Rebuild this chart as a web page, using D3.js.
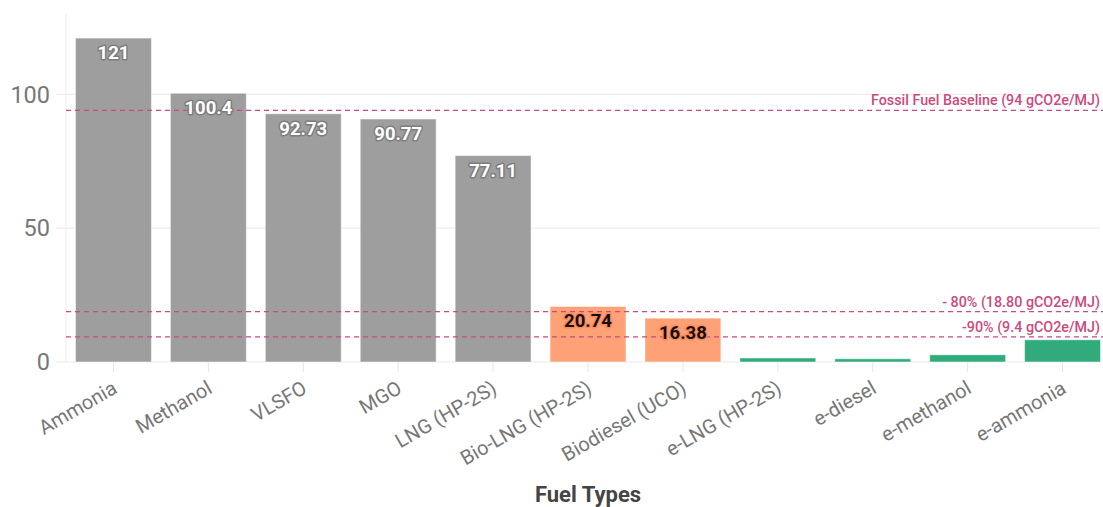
<!DOCTYPE html>
<html>
<head>
<meta charset="utf-8">
<script src="https://cdn.jsdelivr.net/npm/d3@7/dist/d3.min.js"></script>
<style>
  html, body { margin: 0; padding: 0; background: #fff; }
  svg { display: block; font-family: Roboto, "Noto Sans", sans-serif; }
</style>
</head>
<body>
<svg id="chart" width="1103" height="507"></svg>
<script>
// Well-to-wake GHG intensity by fuel (gCO2e/MJ)
const fuels = ["Ammonia", "Methanol", "VLSFO", "MGO", "LNG (HP-2S)", "Bio-LNG (HP-2S)",
  "Biodiesel (UCO)", "e-LNG (HP-2S)", "e-diesel", "e-methanol", "e-ammonia"];
const intensity = [121, 100.4, 92.73, 90.77, 77.11, 20.74, 16.38, 1.5, 1.2, 2.7, 8.3];
const group = ["fossil", "fossil", "fossil", "fossil", "fossil", "bio", "bio",
  "efuel", "efuel", "efuel", "efuel"];
const showValue = [true, true, true, true, true, true, true, false, false, false, false];
const yTicks = [0, 50, 100];
const refValues = [94, 18.8, 9.4];
const refLabels = ["Fossil Fuel Baseline (94 gCO2e/MJ)", "- 80% (18.80 gCO2e/MJ)", "-90% (9.4 gCO2e/MJ)"];
const axisTitle = "Fuel Types";

const colors = { fossil: "#9e9e9e", bio: "#ffa177", efuel: "#32ab7c" };
const refColor = "#cc4a7d";

const svg = d3.select("#chart");
const plotLeft = 66, plotRight = 1110, plotTop = 14, plotBottom = 362;

const x = d3.scaleBand().domain(fuels).range([plotLeft, plotRight]).paddingInner(0.2).paddingOuter(0.1);
const y = d3.scaleLinear().domain([0, 130]).range([plotBottom, plotTop]);

// gridlines
svg.append("g").selectAll("line").data(yTicks).join("line")
  .attr("x1", plotLeft - 10).attr("x2", 1100)
  .attr("y1", d => y(d)).attr("y2", d => y(d))
  .attr("stroke", "#e9e9e9").attr("stroke-width", 1);

// y axis line
svg.append("line").attr("x1", plotLeft).attr("x2", plotLeft).attr("y1", plotTop).attr("y2", plotBottom)
  .attr("stroke", "#ececec").attr("stroke-width", 1);

// y tick labels
svg.append("g").selectAll("text").data(yTicks).join("text")
  .attr("x", plotLeft - 16).attr("y", d => y(d)).attr("dy", "0.35em")
  .attr("text-anchor", "end").attr("font-size", 23.5).attr("fill", "#777")
  .text(d => d);

// x ticks
svg.append("g").selectAll("line").data(fuels).join("line")
  .attr("x1", d => x(d) + x.bandwidth() / 2).attr("x2", d => x(d) + x.bandwidth() / 2)
  .attr("y1", plotBottom).attr("y2", plotBottom + 10)
  .attr("stroke", "#e6e6e6");

// bars
svg.append("g").selectAll("rect").data(fuels).join("rect")
  .attr("x", d => x(d)).attr("width", x.bandwidth())
  .attr("y", (d, i) => y(intensity[i]))
  .attr("height", (d, i) => y(0) - y(intensity[i]))
  .attr("fill", (d, i) => colors[group[i]])
  .attr("stroke", "#fff").attr("stroke-opacity", 0.5).attr("stroke-width", 1);

// reference lines
refValues.forEach((v, i) => {
  svg.append("line").attr("x1", plotLeft).attr("x2", 1103)
    .attr("y1", y(v)).attr("y2", y(v))
    .attr("stroke", refColor).attr("stroke-width", 1.3).attr("stroke-dasharray", "5,4");
  svg.append("text").attr("x", 1100).attr("y", y(v) - 5)
    .attr("text-anchor", "end").attr("font-size", 14.3).attr("font-weight", 500)
    .attr("fill", refColor).text(refLabels[i]);
});

// value labels
svg.append("g").selectAll("text")
  .data(fuels.map((f, i) => ({ f, v: intensity[i], g: group[i] })).filter((d, i) => showValue[i]))
  .join("text")
  .attr("x", d => x(d.f) + x.bandwidth() / 2)
  .attr("y", d => y(d.v) + 21)
  .attr("text-anchor", "middle").attr("font-size", 18.5).attr("font-weight", 700)
  .attr("paint-order", "stroke").attr("stroke-width", 3).attr("stroke-linejoin", "round")
  .attr("fill", d => d.g === "bio" ? "#111" : "#fff")
  .attr("stroke", d => d.g === "bio" ? "#ff8a5c" : "#7d7d7d")
  .text(d => d.v);

// x tick labels
svg.append("g").selectAll("text").data(fuels).join("text")
  .attr("transform", d => `translate(${x(d) + x.bandwidth() / 2 - 2},${plotBottom + 18}) rotate(-30)`)
  .attr("text-anchor", "end").attr("dy", "0.7em")
  .attr("font-size", 20).attr("fill", "#777")
  .text(d => d);

// axis title
svg.append("text").attr("x", (plotLeft + plotRight) / 2).attr("y", 502)
  .attr("text-anchor", "middle").attr("font-size", 22).attr("font-weight", 700)
  .attr("fill", "#444").text(axisTitle);
</script>
</body>
</html>
